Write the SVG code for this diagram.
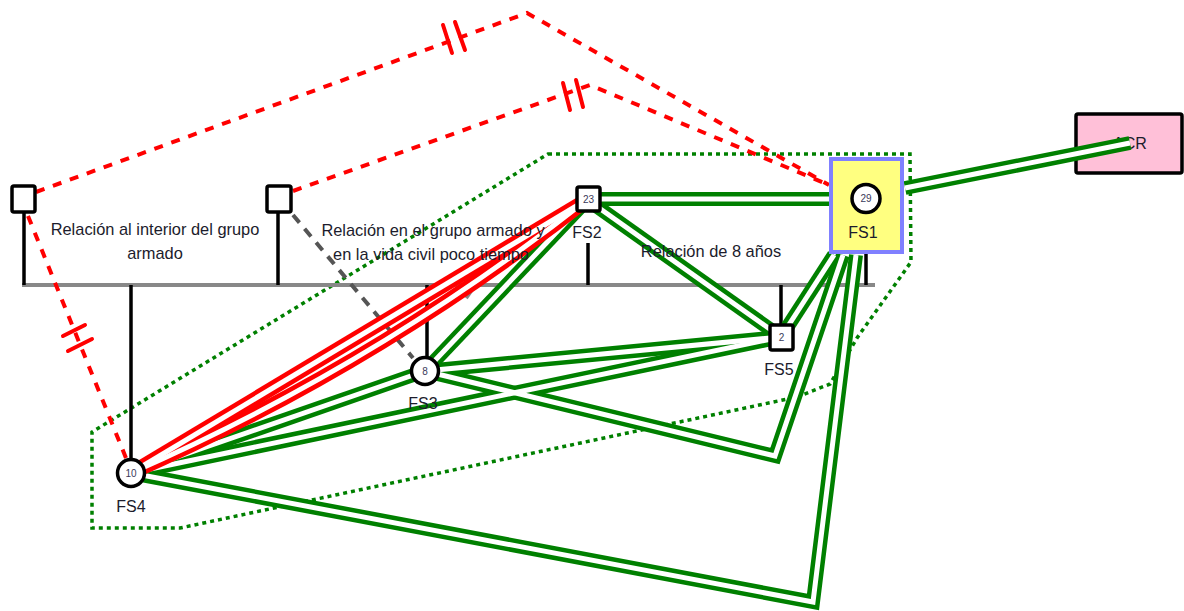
<svg xmlns="http://www.w3.org/2000/svg" width="1184" height="611" viewBox="0 0 1184 611">
<style>
.txt{font-family:"Liberation Sans",Arial,sans-serif;fill:#1c1c2c}
.rel{font-size:16.4px;text-anchor:middle}
.lbl{font-size:16px;text-anchor:middle}
.num{font-size:10px;text-anchor:middle;fill:#3a3a5a}
.go{fill:none;stroke:#008000;stroke-width:14;stroke-linejoin:miter}
.ro{fill:none;stroke:#ff0000;stroke-width:14;stroke-linejoin:miter}
.in{fill:none;stroke:#ffffff;stroke-width:5;stroke-linejoin:miter}
.rd{fill:none;stroke:#ff0000;stroke-width:4;stroke-dasharray:9 9}
.tick{stroke:#ff0000;stroke-width:4;stroke-linecap:round}
.gd{fill:none;stroke:#555555;stroke-width:4;stroke-dasharray:10 8}
.dot{fill:none;stroke:#008000;stroke-width:3.5;stroke-dasharray:4 4}
.blk{stroke:#000;stroke-width:3.5}
.bar{stroke:#888888;stroke-width:4}
.sq{fill:#fff;stroke:#000;stroke-width:3.5}
.ci{fill:#fff;stroke:#000;stroke-width:3.5}
</style>

<!-- green dotted boundary -->
<polygon class="dot" points="548,154 910,154 911,262 857,338 830,384 797,397 180,528 92,528 92,432"/>

<!-- ACR node (drawn beneath connector) -->
<g id="ACR">
<rect x="1076" y="114" width="106" height="59" fill="#ffc0d8" stroke="#000" stroke-width="3.5" rx="2"/>
<text class="txt lbl" x="1130" y="149">ACR</text>
</g>

<g id="structure">
<line class="bar" x1="22" y1="285" x2="875" y2="285"/>
<line class="blk" x1="24" y1="212" x2="24" y2="285"/>
<line class="blk" x1="278" y1="212" x2="278" y2="285"/>
<line class="blk" x1="131" y1="285" x2="131" y2="460"/>
<line class="blk" x1="427" y1="285" x2="427" y2="358"/>
<line class="blk" x1="588" y1="243" x2="588" y2="285"/>
<line class="blk" x1="781" y1="285" x2="781" y2="324"/>
<line class="blk" x1="866" y1="253" x2="866" y2="285"/>
<line class="bar" x1="457" y1="297" x2="469" y2="279"/>
<line class="bar" x1="466" y1="298" x2="478" y2="281"/>
</g>

<g id="connectors">
<!-- red dashed relations -->
<polyline class="rd" points="36,192 527,13 829,185"/>
<polyline class="rd" points="293,191 590,85 829,185"/>
<line class="rd" x1="28" y1="216" x2="126" y2="458"/>
<line class="tick" x1="443" y1="25" x2="452" y2="53"/>
<line class="tick" x1="455" y1="22" x2="465" y2="50"/>
<line class="tick" x1="563" y1="83" x2="570" y2="110"/>
<line class="tick" x1="576" y1="80" x2="583" y2="107"/>
<line class="tick" x1="63" y1="336" x2="85" y2="325"/>
<line class="tick" x1="68" y1="351" x2="92" y2="339"/>
<!-- gray dashed -->
<line class="gd" x1="293" y1="215" x2="413" y2="358"/>

<!-- green doubles: outer -->
<g>
<path class="go" d="M600,199 L831,199"/>
<path class="go" d="M592,203 L781,337"/>
<path class="go" d="M588,199 L425,371"/>
<path class="go" d="M425,371 L781,337"/>
<path class="go" d="M425,371 L775,456 L843,255"/>
<path class="go" d="M131,473 L425,371"/>
<path class="go" d="M131,473 L781,337"/>
<path class="go" d="M131,473 L813,602 L856,255"/>
<path class="go" d="M781,337 L834,255"/>
<path class="go" d="M905,188 L1130,143"/>
</g>
<g>
<path class="in" d="M600,199 L831,199"/>
<path class="in" d="M592,203 L781,337"/>
<path class="in" d="M588,199 L425,371"/>
<path class="in" d="M425,371 L781,337"/>
<path class="in" d="M425,371 L775,456 L843,255"/>
<path class="in" d="M131,473 L425,371"/>
<path class="in" d="M131,473 L781,337"/>
<path class="in" d="M131,473 L813,602 L856,255"/>
<path class="in" d="M781,337 L834,255"/>
<path class="in" d="M905,188 L1130,143"/>
</g>
<!-- red doubles -->
<g>
<path class="ro" d="M131,473 L588,199"/>
<path class="ro" d="M131,473 Q377,365 588,199"/>
<path class="in" d="M131,473 L588,199"/>
<path class="in" d="M131,473 Q377,365 588,199"/>
</g>
</g>

<!-- relation texts -->
<g id="rel1"><text class="txt rel" x="155" y="235">Relación al interior del grupo</text><text class="txt rel" x="155" y="259">armado</text></g>
<g id="rel2"><text class="txt rel" x="433" y="236">Relación en el grupo armado y</text><text class="txt rel" x="431" y="260">en la vida civil poco tiempo</text></g>
<g id="rel3"><text class="txt rel" x="711" y="257">Relación de 8 años</text></g>

<!-- nodes -->
<g id="G1"><rect class="sq" x="12" y="186" width="23" height="26" rx="2"/></g>
<g id="G2"><rect class="sq" x="267" y="186" width="24" height="26" rx="2"/></g>
<g id="FS2"><rect class="sq" x="577" y="187" width="23" height="24" rx="2"/><text class="txt num" x="588.5" y="203">23</text><text class="txt lbl" x="587" y="238">FS2</text></g>
<g id="FS1"><rect x="831" y="159" width="71" height="93" fill="#ffff80" stroke="#8080ff" stroke-width="4"/><circle class="ci" cx="866" cy="198.5" r="14"/><text class="txt num" x="866" y="202">29</text><text class="txt lbl" x="863" y="238">FS1</text></g>
<g id="FS4"><circle class="ci" cx="131" cy="473" r="13.5"/><text class="txt num" x="131" y="477">10</text><text class="txt lbl" x="131" y="512">FS4</text></g>
<g id="FS3"><circle class="ci" cx="425" cy="371" r="13.5"/><text class="txt num" x="425" y="375">8</text><text class="txt lbl" x="423" y="409">FS3</text></g>
<g id="FS5"><rect class="sq" x="770" y="325" width="23" height="25" rx="2"/><text class="txt num" x="781.5" y="341">2</text><text class="txt lbl" x="779" y="375">FS5</text></g>
</svg>
